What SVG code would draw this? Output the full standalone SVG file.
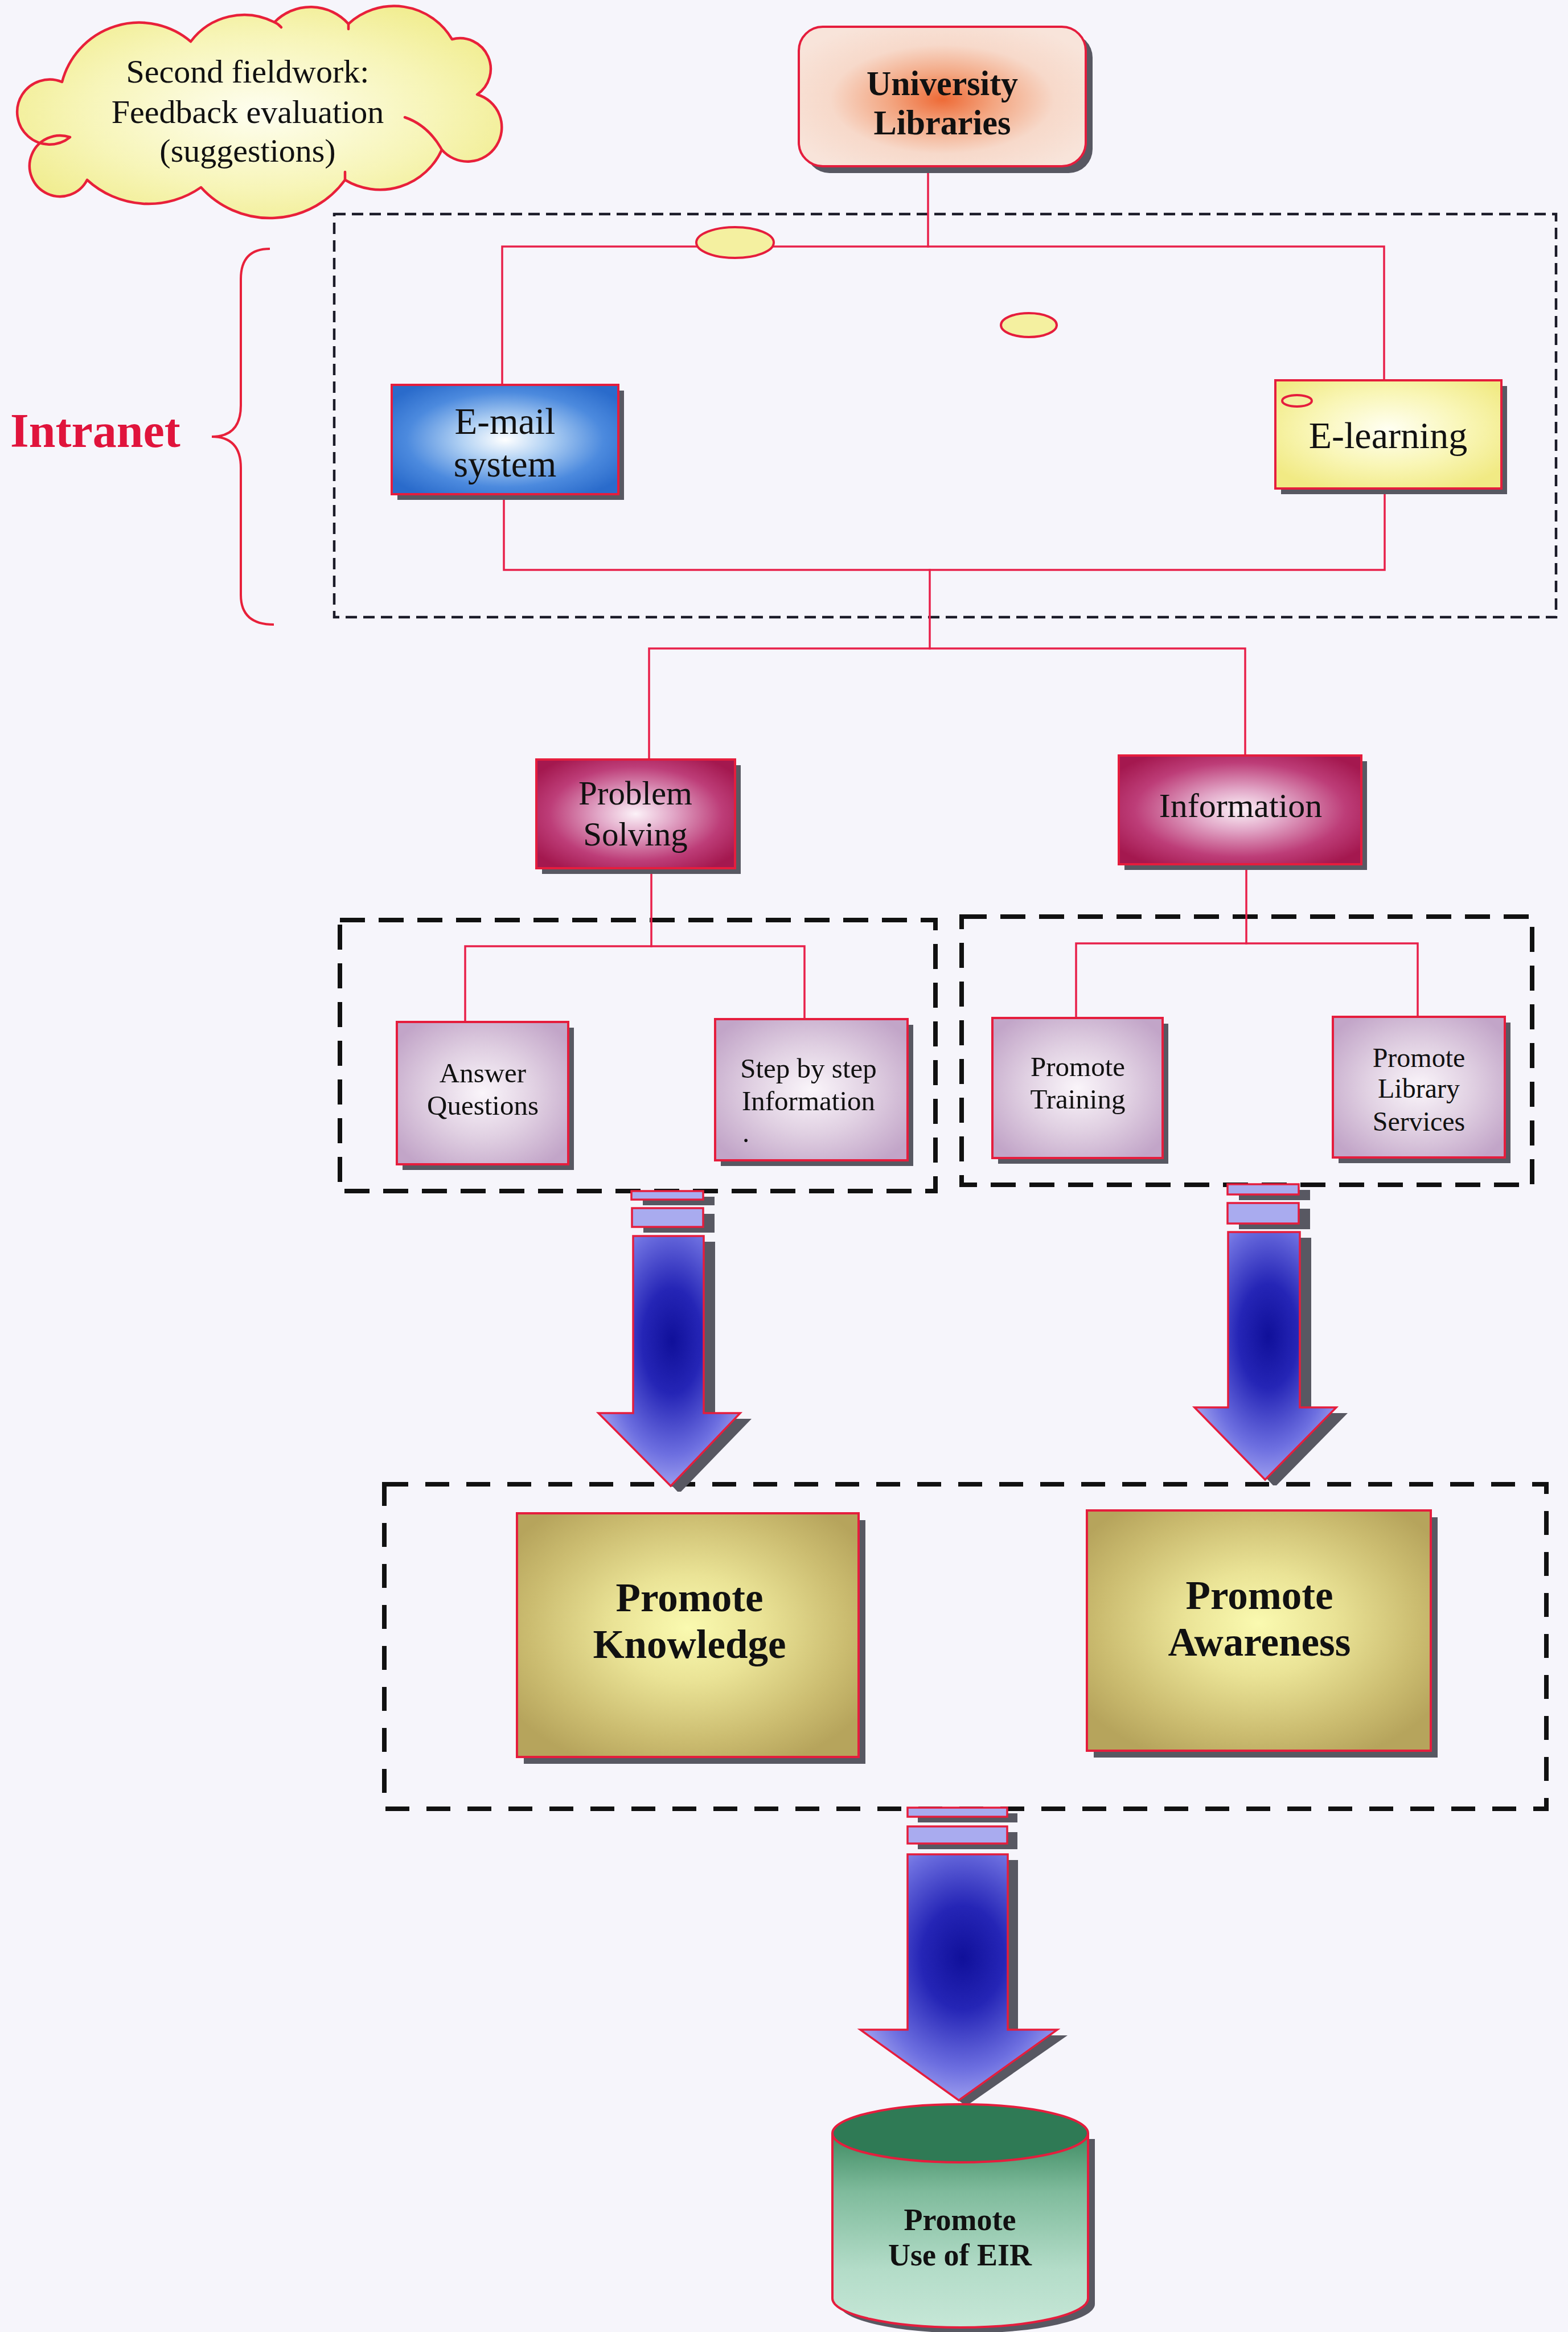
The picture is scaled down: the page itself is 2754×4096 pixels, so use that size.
<svg xmlns="http://www.w3.org/2000/svg" width="2754" height="4096" viewBox="0 0 2754 4096">
  <defs>
    <style>
      .txt { font-family: "Liberation Serif", "Times New Roman", serif; fill: #111; text-anchor: middle; }
      .bold { font-weight: bold; }
      .box { stroke: #e51d3d; stroke-width: 4; }
      .shadow { fill: #585862; }
      .link { stroke: #e8204a; stroke-width: 3.5; fill: none; stroke-linecap: square; }
      .dash-thin { fill: none; stroke: #1b1b28; stroke-width: 4.5; stroke-dasharray: 20 11; }
      .dash-thick { fill: none; stroke: #111; stroke-width: 8; stroke-dasharray: 44 24; }
      .dash-wide { fill: none; stroke: #111; stroke-width: 8; stroke-dasharray: 42 30; }
      .dot { fill: #f4f0a0; stroke: #e51d3d; stroke-width: 4; }
      .arrow { fill: url(#gArrow); stroke: #e51d3d; stroke-width: 3.5; stroke-linejoin: miter; }
      .bar { fill: #a9abef; stroke: #e51d3d; stroke-width: 3.5; }
      .cloud-line { fill: none; stroke: #e8203a; stroke-width: 4.5; stroke-linecap: round; }
    </style>
    <radialGradient id="gCloud" cx="0.5" cy="0.5" r="0.6">
      <stop offset="0" stop-color="#fefef0"/>
      <stop offset="0.6" stop-color="#f7f5b8"/>
      <stop offset="1" stop-color="#f0ec8c"/>
    </radialGradient>
    <radialGradient id="gUniv" cx="0.5" cy="0.52" r="0.6">
      <stop offset="0" stop-color="#ee6a36"/>
      <stop offset="0.3" stop-color="#f3a580"/>
      <stop offset="0.65" stop-color="#f7d9ca"/>
      <stop offset="1" stop-color="#f8e4da"/>
    </radialGradient>
    <radialGradient id="gBlue" cx="0.5" cy="0.5" r="0.62">
      <stop offset="0" stop-color="#ffffff"/>
      <stop offset="0.3" stop-color="#b4d3f4"/>
      <stop offset="0.7" stop-color="#4c8ade"/>
      <stop offset="1" stop-color="#2a6bcb"/>
    </radialGradient>
    <radialGradient id="gYellow" cx="0.5" cy="0.45" r="0.62">
      <stop offset="0" stop-color="#fffff2"/>
      <stop offset="0.55" stop-color="#f9f6b6"/>
      <stop offset="1" stop-color="#f1ea84"/>
    </radialGradient>
    <radialGradient id="gMagenta" cx="0.5" cy="0.5" r="0.62">
      <stop offset="0" stop-color="#fcf2f8"/>
      <stop offset="0.3" stop-color="#e2a8c8"/>
      <stop offset="0.7" stop-color="#bd3d78"/>
      <stop offset="1" stop-color="#a4184f"/>
    </radialGradient>
    <radialGradient id="gLavender" cx="0.5" cy="0.5" r="0.62">
      <stop offset="0" stop-color="#faf5fa"/>
      <stop offset="0.5" stop-color="#e0d0e2"/>
      <stop offset="1" stop-color="#c2a5c8"/>
    </radialGradient>
    <radialGradient id="gOlive" cx="0.5" cy="0.47" r="0.62">
      <stop offset="0" stop-color="#fafab0"/>
      <stop offset="0.35" stop-color="#eae396"/>
      <stop offset="0.75" stop-color="#cbbc70"/>
      <stop offset="1" stop-color="#b6a45c"/>
    </radialGradient>
    <radialGradient id="gArrow" cx="0.52" cy="0.42" r="0.7">
      <stop offset="0" stop-color="#10109a"/>
      <stop offset="0.3" stop-color="#2525b6"/>
      <stop offset="0.65" stop-color="#6d6fe0"/>
      <stop offset="1" stop-color="#c8c8fa"/>
    </radialGradient>
    <linearGradient id="gCylBody" x1="0" y1="0" x2="0" y2="1">
      <stop offset="0" stop-color="#3e8b62"/>
      <stop offset="0.3" stop-color="#7fbb9c"/>
      <stop offset="0.7" stop-color="#b3dcc8"/>
      <stop offset="1" stop-color="#c6e7d7"/>
    </linearGradient>
  </defs>

  <!-- page -->
  <rect x="0" y="0" width="2754" height="4096" fill="#f6f5fb"/>

  <!-- grouping frames -->
  <g id="frames">
    <rect id="intranet-frame" class="dash-thin" x="587" y="376" width="2146" height="708"/>
    <rect id="problem-frame" class="dash-thick" x="597" y="1616" width="1046" height="476"/>
    <rect id="information-frame" class="dash-thick" x="1689" y="1610" width="1002" height="471"/>
    <rect id="promote-frame" class="dash-wide" x="675" y="2607" width="2041" height="570"/>
  </g>

  <!-- connectors -->
  <g id="connectors">
    <path class="link" d="M1630 292 V433"/>
    <path class="link" d="M882 676 V433 H2431 V668"/>
    <path class="link" d="M885 868 V1001 H2432 V858"/>
    <path class="link" d="M1633 1001 V1139"/>
    <path class="link" d="M1140 1334 V1139 H2187 V1327"/>
    <path class="link" d="M1144 1525 V1662"/>
    <path class="link" d="M817 1795 V1662 H1413 V1790"/>
    <path class="link" d="M2189 1518 V1657"/>
    <path class="link" d="M1890 1788 V1657 H2490 V1786"/>

    <!-- block arrows between the levels -->
    <g id="arrow-left">
      <rect class="shadow" x="1129" y="2102" width="126" height="15"/>
      <rect class="shadow" x="1130" y="2132" width="125" height="33"/>
      <polygon class="shadow" points="1132,2181 1256,2181 1256,2492 1320,2492 1196,2620 1190,2620 1071,2492 1132,2492"/>
      <rect class="bar" x="1109" y="2092" width="126" height="15"/>
      <rect class="bar" x="1110" y="2122" width="125" height="33"/>
      <polygon class="arrow" points="1112,2171 1236,2171 1236,2482 1300,2482 1178,2610 1051,2482 1112,2482"/>
    </g>
    <g id="arrow-right">
      <rect class="shadow" x="2176" y="2090" width="125" height="18"/>
      <rect class="shadow" x="2176" y="2123" width="125" height="36"/>
      <polygon class="shadow" points="2177,2174 2303,2174 2303,2482 2367,2482 2242,2609 2236,2609 2118,2482 2177,2482"/>
      <rect class="bar" x="2156" y="2080" width="125" height="18"/>
      <rect class="bar" x="2156" y="2113" width="125" height="36"/>
      <polygon class="arrow" points="2157,2164 2283,2164 2283,2472 2347,2472 2222,2599 2098,2472 2157,2472"/>
    </g>
    <g id="arrow-bottom">
      <rect class="shadow" x="1612" y="3185" width="175" height="16"/>
      <rect class="shadow" x="1612" y="3218" width="175" height="30"/>
      <polygon class="shadow" points="1612,3267 1788,3267 1788,3575 1875,3575 1700,3697 1694,3697 1529,3575 1612,3575"/>
      <rect class="bar" x="1594" y="3175" width="175" height="16"/>
      <rect class="bar" x="1594" y="3208" width="175" height="30"/>
      <polygon class="arrow" points="1594,3257 1770,3257 1770,3565 1857,3565 1684,3689 1511,3565 1594,3565"/>
    </g>
  </g>

  <!-- connector junction markers -->
  <g id="junctions">
    <ellipse class="dot" cx="1291" cy="426" rx="68" ry="27"/>
    <ellipse class="dot" cx="1807" cy="571" rx="49" ry="21"/>
  </g>

  <!-- feedback cloud -->
  <g id="feedback-cloud">
    <path d="M109 144 A140 140 0 0 1 335 73 A117 117 0 0 1 482 39 A89 89 0 0 1 612 42 A118 118 0 0 1 794 69 A54 54 0 0 1 838 166 A60 60 0 1 1 776 263 A119 119 0 0 1 606 316 A163 163 0 0 1 353 329 A160 160 0 0 1 153 316 A53.5 53.5 0 1 1 123 241 A57 57 0 1 1 109 144 Z" fill="url(#gCloud)" stroke="#e8203a" stroke-width="4.5" stroke-linejoin="round"/>
    <path class="cloud-line" d="M711 206 Q752 220 776 263"/>
    <path class="cloud-line" d="M482 39 Q489 42 494 48"/>
    <path class="cloud-line" d="M612 42 Q612 46 612 51"/>
    <path class="cloud-line" d="M606 316 Q606 309 606 302"/>
    <text class="txt" x="435" y="145" font-size="58">Second fieldwork:</text>
    <text class="txt" x="435" y="216" font-size="58">Feedback evaluation</text>
    <text class="txt" x="435" y="284" font-size="58">(suggestions)</text>
  </g>

  <!-- top node -->
  <g id="university-libraries">
    <rect class="shadow" x="1415" y="59" width="504" height="245" rx="42"/>
    <rect class="box" x="1403" y="47" width="504" height="245" rx="42" fill="url(#gUniv)"/>
    <text class="txt bold" x="1655" y="167" font-size="62" textLength="266" lengthAdjust="spacingAndGlyphs">University</text>
    <text class="txt bold" x="1655" y="236" font-size="62" textLength="241" lengthAdjust="spacingAndGlyphs">Libraries</text>
  </g>

  <!-- intranet label and brace -->
  <g id="intranet-label">
    <text x="18" y="785" font-family="'Liberation Serif', 'Times New Roman', serif" font-weight="bold" font-size="84" fill="#e0143c">Intranet</text>
    <path d="M474 437 Q423 437 423 490 L423 712 Q423 767 372 767 Q423 767 423 822 L423 1045 Q423 1097 481 1097" fill="none" stroke="#e8203a" stroke-width="4"/>
  </g>

  <g id="email-system">
    <rect class="shadow" x="698" y="686" width="398" height="192"/>
    <rect class="box" x="688" y="676" width="398" height="192" fill="url(#gBlue)"/>
    <text class="txt" x="887" y="762" font-size="65">E-mail</text>
    <text class="txt" x="887" y="837" font-size="65">system</text>
  </g>

  <g id="e-learning">
    <rect class="shadow" x="2250" y="678" width="397" height="190"/>
    <rect class="box" x="2240" y="668" width="397" height="190" fill="url(#gYellow)"/>
    <ellipse class="dot" cx="2278" cy="704" rx="26" ry="10" stroke-width="3.5"/>
    <text class="txt" x="2438" y="787" font-size="66">E-learning</text>
  </g>

  <g id="problem-solving">
    <rect class="shadow" x="952" y="1344" width="349" height="191"/>
    <rect class="box" x="942" y="1334" width="349" height="191" fill="url(#gMagenta)"/>
    <text class="txt" x="1116" y="1413" font-size="59">Problem</text>
    <text class="txt" x="1116" y="1485" font-size="59">Solving</text>
  </g>

  <g id="information">
    <rect class="shadow" x="1975" y="1337" width="426" height="191"/>
    <rect class="box" x="1965" y="1327" width="426" height="191" fill="url(#gMagenta)"/>
    <text class="txt" x="2179" y="1435" font-size="60">Information</text>
  </g>

  <g id="answer-questions">
    <rect class="shadow" x="707" y="1805" width="301" height="250"/>
    <rect class="box" x="697" y="1795" width="301" height="250" fill="url(#gLavender)"/>
    <text class="txt" x="848" y="1901" font-size="49">Answer</text>
    <text class="txt" x="848" y="1958" font-size="49">Questions</text>
  </g>

  <g id="step-by-step">
    <rect class="shadow" x="1266" y="1800" width="338" height="248"/>
    <rect class="box" x="1256" y="1790" width="338" height="248" fill="url(#gLavender)"/>
    <text class="txt" x="1420" y="1893" font-size="49">Step by step</text>
    <text class="txt" x="1420" y="1950" font-size="49">Information</text>
    <text class="txt" x="1310" y="2006" font-size="49">.</text>
  </g>

  <g id="promote-training">
    <rect class="shadow" x="1753" y="1798" width="299" height="246"/>
    <rect class="box" x="1743" y="1788" width="299" height="246" fill="url(#gLavender)"/>
    <text class="txt" x="1893" y="1890" font-size="49">Promote</text>
    <text class="txt" x="1893" y="1947" font-size="49">Training</text>
  </g>

  <g id="promote-library-services">
    <rect class="shadow" x="2351" y="1796" width="302" height="247"/>
    <rect class="box" x="2341" y="1786" width="302" height="247" fill="url(#gLavender)"/>
    <text class="txt" x="2492" y="1874" font-size="48">Promote</text>
    <text class="txt" x="2492" y="1928" font-size="48">Library</text>
    <text class="txt" x="2492" y="1986" font-size="48">Services</text>
  </g>

  <g id="promote-knowledge">
    <rect class="shadow" x="920" y="2670" width="600" height="428"/>
    <rect class="box" x="908" y="2658" width="600" height="428" fill="url(#gOlive)"/>
    <text class="txt bold" x="1211" y="2830" font-size="71">Promote</text>
    <text class="txt bold" x="1211" y="2912" font-size="71">Knowledge</text>
  </g>

  <g id="promote-awareness">
    <rect class="shadow" x="1921" y="2665" width="604" height="422"/>
    <rect class="box" x="1909" y="2653" width="604" height="422" fill="url(#gOlive)"/>
    <text class="txt bold" x="2212" y="2826" font-size="71">Promote</text>
    <text class="txt bold" x="2212" y="2908" font-size="71">Awareness</text>
  </g>

  <g id="promote-use-of-eir">
    <path class="shadow" d="M1474 3757 V4047 A224.5 51 0 0 0 1923 4047 V3757 Z"/>
    <path d="M1462 3747 V4037 A224.5 51 0 0 0 1911 4037 V3747" fill="url(#gCylBody)" stroke="#e51d3d" stroke-width="4"/>
    <ellipse cx="1686.5" cy="3747" rx="224.5" ry="51" fill="#2f7a55" stroke="#e51d3d" stroke-width="4"/>
    <text class="txt bold" x="1686" y="3917" font-size="54">Promote</text>
    <text class="txt bold" x="1686" y="3979" font-size="54">Use of EIR</text>
  </g>
</svg>
